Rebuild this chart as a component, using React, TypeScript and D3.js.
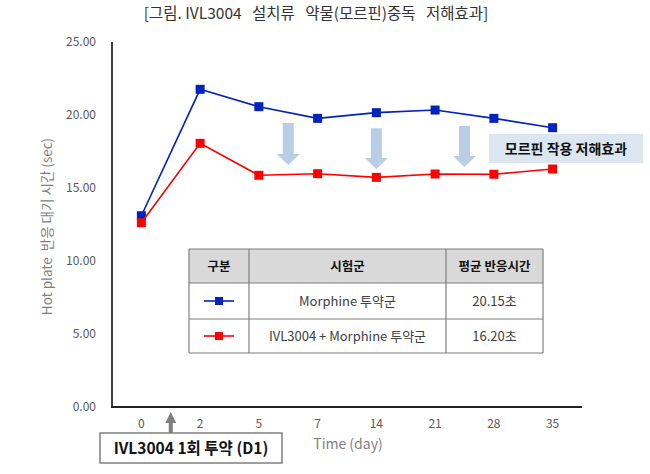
import React, { useEffect, useRef } from "react";
import * as d3 from "d3";

const days = ["0", "2", "5", "7", "14", "21", "28", "35"];
const morphine = [13.1, 21.76, 20.57, 19.77, 20.16, 20.34, 19.77, 19.13];
const ivlMorphine = [12.62, 18.06, 15.87, 15.98, 15.73, 15.96, 15.94, 16.3];
const yTicks = [0, 5, 10, 15, 20, 25];

// arrows drawn between the two lines: [day a, day b, top value, tip value]
const downArrows: [string, string, number, number][] = [
  ["5", "7", 19.45, 16.58],
  ["14", "14", 19.1, 16.3],
  ["21", "28", 19.25, 16.44],
];

const tableHeader = ["구분", "시험군", "평균 반응시간"];
const tableRows = [
  { group: "Morphine 투약군", mean: "20.15초", color: "#0022c0" },
  { group: "IVL3004 + Morphine 투약군", mean: "16.20초", color: "#ff0000" },
];

const W = 650;
const H = 474;
const FONT = "'Noto Sans CJK KR', 'Noto Sans', sans-serif";

export default function App() {
  const ref = useRef<SVGSVGElement>(null);

  useEffect(() => {
    const svg = d3.select(ref.current);
    svg.selectAll("*").remove();
    svg.style("font-family", FONT);

    const x = d3.scaleBand().domain(days).range([112, 582]);
    const y = d3.scaleLinear().domain([0, 25]).range([407, 42]);
    const cx = (d: string) => (x(d) as number) + x.bandwidth() / 2;

    // title
    svg
      .append("text")
      .attr("x", 316)
      .attr("y", 19)
      .attr("text-anchor", "middle")
      .attr("font-size", 15.5)
      .attr("fill", "#333")
      .style("white-space", "pre")
      .text("[그림. IVL3004   설치류   약물(모르핀)중독   저해효과]");

    // y axis
    svg
      .append("line")
      .attr("x1", 112)
      .attr("x2", 112)
      .attr("y1", y(25))
      .attr("y2", y(0))
      .attr("stroke", "#404040")
      .attr("stroke-width", 2);
    svg
      .selectAll(".ytick")
      .data(yTicks)
      .enter()
      .append("text")
      .attr("x", 96)
      .attr("y", (d) => y(d) + 4)
      .attr("text-anchor", "end")
      .attr("font-size", 12)
      .attr("fill", "#595959")
      .text((d) => d.toFixed(2));

    svg
      .append("text")
      .attr("transform", `translate(52, ${y(12.5) + 2}) rotate(-90)`)
      .attr("text-anchor", "middle")
      .attr("font-size", 13.5)
      .attr("fill", "#7f7f7f")
      .style("white-space", "pre")
      .text("Hot plate  반응 대기 시간 (sec)");

    // x axis
    svg
      .append("line")
      .attr("x1", 111)
      .attr("x2", 582)
      .attr("y1", y(0))
      .attr("y2", y(0))
      .attr("stroke", "#222")
      .attr("stroke-width", 2);
    svg
      .selectAll(".xtick")
      .data(days)
      .enter()
      .append("text")
      .attr("x", cx)
      .attr("y", 428)
      .attr("text-anchor", "middle")
      .attr("font-size", 12)
      .attr("fill", "#595959")
      .text((d) => d);
    svg
      .append("text")
      .attr("x", 348)
      .attr("y", 449)
      .attr("text-anchor", "middle")
      .attr("font-size", 14)
      .attr("fill", "#7f7f7f")
      .text("Time (day)");

    // down arrows
    downArrows.forEach(([a, b, top, tip]) => {
      const ax = (cx(a) + cx(b)) / 2;
      const yt = y(top);
      const yp = y(tip);
      const hh = 11;
      const p = d3.path();
      p.moveTo(ax - 5.5, yt);
      p.lineTo(ax + 5.5, yt);
      p.lineTo(ax + 5.5, yp - hh);
      p.lineTo(ax + 11.5, yp - hh);
      p.lineTo(ax, yp);
      p.lineTo(ax - 11.5, yp - hh);
      p.lineTo(ax - 5.5, yp - hh);
      p.closePath();
      svg.append("path").attr("d", p.toString()).attr("fill", "#b9cde5");
    });

    // lines
    const series = [
      { values: morphine, color: "#0022c0" },
      { values: ivlMorphine, color: "#ff0000" },
    ];
    const line = d3
      .line<number>()
      .x((_, i) => cx(days[i]))
      .y((d) => y(d));
    series.forEach((s) => {
      svg
        .append("path")
        .attr("d", line(s.values))
        .attr("fill", "none")
        .attr("stroke", s.color)
        .attr("stroke-width", 1.6);
      svg
        .selectAll(null)
        .data(s.values)
        .enter()
        .append("rect")
        .attr("x", (_, i) => cx(days[i]) - 4.5)
        .attr("y", (d) => y(d) - 4.5)
        .attr("width", 9)
        .attr("height", 9)
        .attr("fill", s.color);
    });

    // annotation box
    svg
      .append("rect")
      .attr("x", 489)
      .attr("y", 134)
      .attr("width", 154)
      .attr("height", 29)
      .attr("fill", "#dce6f1");
    svg
      .append("text")
      .attr("x", 566)
      .attr("y", 154)
      .attr("text-anchor", "middle")
      .attr("font-size", 14)
      .attr("font-weight", "bold")
      .attr("fill", "#111")
      .text("모르핀 작용 저해효과");

    // table
    const tx = [189, 249, 446, 543];
    const ty = [249, 283, 319, 353];
    svg
      .append("rect")
      .attr("x", tx[0])
      .attr("y", ty[0])
      .attr("width", tx[3] - tx[0])
      .attr("height", ty[1] - ty[0])
      .attr("fill", "#d9d9d9");
    svg
      .append("rect")
      .attr("x", tx[0])
      .attr("y", ty[1])
      .attr("width", tx[3] - tx[0])
      .attr("height", ty[3] - ty[1])
      .attr("fill", "#fff");
    tx.forEach((v) =>
      svg
        .append("line")
        .attr("x1", v)
        .attr("x2", v)
        .attr("y1", ty[0])
        .attr("y2", ty[3])
        .attr("stroke", "#7f7f7f")
        .attr("stroke-width", 1.2)
    );
    ty.forEach((v) =>
      svg
        .append("line")
        .attr("x1", tx[0])
        .attr("x2", tx[3])
        .attr("y1", v)
        .attr("y2", v)
        .attr("stroke", "#7f7f7f")
        .attr("stroke-width", 1.2)
    );
    tableHeader.forEach((h, i) =>
      svg
        .append("text")
        .attr("x", (tx[i] + tx[i + 1]) / 2)
        .attr("y", (ty[0] + ty[1]) / 2 + 4.5)
        .attr("text-anchor", "middle")
        .attr("font-size", 12.5)
        .attr("font-weight", "bold")
        .attr("fill", "#111")
        .text(h)
    );
    tableRows.forEach((r, i) => {
      const my = (ty[i + 1] + ty[i + 2]) / 2;
      const mx = (tx[0] + tx[1]) / 2;
      svg
        .append("line")
        .attr("x1", mx - 15)
        .attr("x2", mx + 15)
        .attr("y1", my)
        .attr("y2", my)
        .attr("stroke", r.color)
        .attr("stroke-width", 1.6);
      svg
        .append("rect")
        .attr("x", mx - 4)
        .attr("y", my - 4)
        .attr("width", 8)
        .attr("height", 8)
        .attr("fill", r.color);
      svg
        .append("text")
        .attr("x", (tx[1] + tx[2]) / 2)
        .attr("y", my + 4.5)
        .attr("text-anchor", "middle")
        .attr("font-size", 13)
        .attr("fill", "#404040")
        .text(r.group);
      svg
        .append("text")
        .attr("x", (tx[2] + tx[3]) / 2)
        .attr("y", my + 4.5)
        .attr("text-anchor", "middle")
        .attr("font-size", 13)
        .attr("fill", "#404040")
        .text(r.mean);
    });

    // dosing marker
    const dx = (cx("0") + cx("2")) / 2;
    const up = d3.path();
    up.moveTo(dx - 2, 433);
    up.lineTo(dx + 2, 433);
    up.lineTo(dx + 2, 423);
    up.lineTo(dx + 5.5, 423);
    up.lineTo(dx, 412);
    up.lineTo(dx - 5.5, 423);
    up.lineTo(dx - 2, 423);
    up.closePath();
    svg.append("path").attr("d", up.toString()).attr("fill", "#7f7f7f");
    svg
      .append("rect")
      .attr("x", 100)
      .attr("y", 433)
      .attr("width", 182)
      .attr("height", 30)
      .attr("fill", "#fff")
      .attr("stroke", "#7f7f7f")
      .attr("stroke-width", 1.5);
    svg
      .append("text")
      .attr("x", 191)
      .attr("y", 454)
      .attr("text-anchor", "middle")
      .attr("font-size", 15.5)
      .attr("font-weight", "bold")
      .attr("fill", "#111")
      .text("IVL3004 1회 투약 (D1)");
  }, []);

  return (
    <svg
      ref={ref}
      width={W}
      height={H}
      style={{ position: "absolute", left: 0, top: 0, background: "#fff" }}
    />
  );
}
